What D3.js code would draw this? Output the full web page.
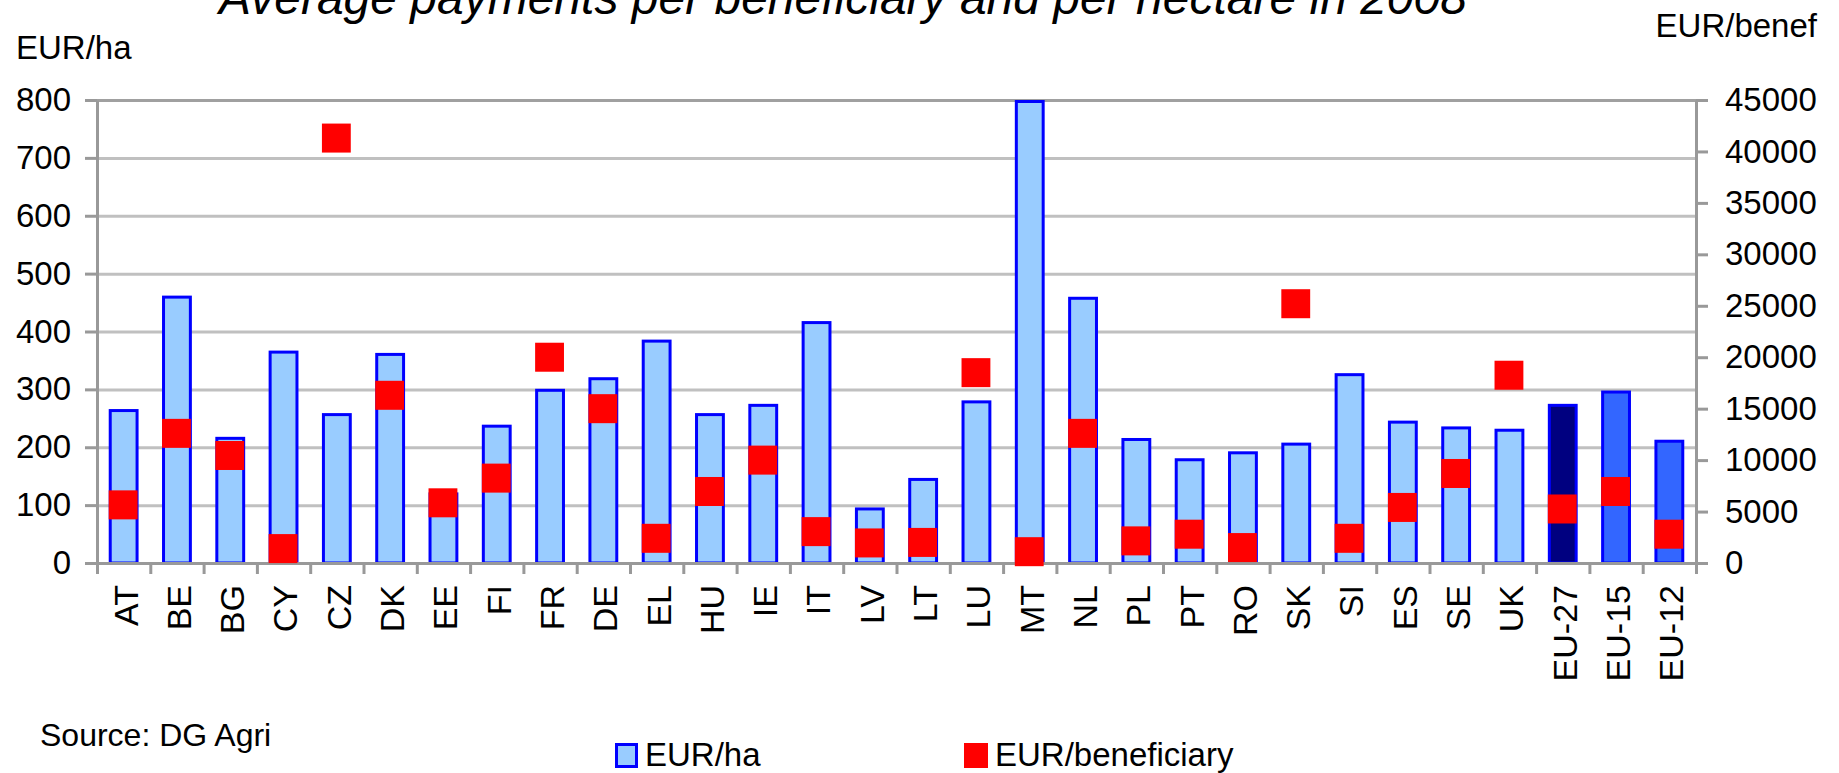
<!DOCTYPE html>
<html>
<head>
<meta charset="utf-8">
<script src="https://cdnjs.cloudflare.com/ajax/libs/d3/7.8.5/d3.min.js"></script>
<style>
	body { margin: 0; background: #fff; }
	svg text { font-family: "Liberation Sans", Arial, sans-serif; fill: #000; }
</style>
</head>
<body>
<div id="chart"></div>
<script>

// DATA
var countries = ["AT","BE","BG","CY","CZ","DK","EE","FI","FR","DE","EL","HU","IE","IT","LV","LT","LU","MT","NL","PL","PT","RO","SK","SI","ES","SE","UK","EU-27","EU-15","EU-12"];
var eurHa    = [266, 462, 218, 367, 259, 363, 122, 239, 301, 321, 386, 259, 275, 418, 96, 147, 281, 800, 460, 216, 181, 193, 208, 328, 246, 236, 232, 275, 298, 213];
var eurBenef = [5650, 12600, 10450, 1400, 41300, 16300, 5850, 8250, 20000, 15000, 2400, 6950, 10000, 3050, 1950, 2000, 18500, 1100, 12600, 2150, 2800, 1500, 25200, 2400, 5400, 8700, 18250, 5250, 6950, 2800];
var leftTicks  = [0, 100, 200, 300, 400, 500, 600, 700, 800];
var rightTicks = [0, 5000, 10000, 15000, 20000, 25000, 30000, 35000, 40000, 45000];
var legendLabels = ["EUR/ha", "EUR/beneficiary"];

var W = 1839, H = 773;
// plot area (note: "top" is a reserved window property, so px* names)
var pxLeft = 97, pxRight = 1696, pxTop = 100, pxBottom = 563;

var svg = d3.select("#chart").append("svg")
	.attr("width", W)
	.attr("height", H);

var x = d3.scaleBand()
	.domain(countries)
	.range([pxLeft, pxRight])
	.paddingInner(0.44)
	.paddingOuter(0.22);

var yL = d3.scaleLinear().domain([0, 800]).range([pxBottom, pxTop]);
var yR = d3.scaleLinear().domain([0, 45000]).range([pxBottom, pxTop]);

// gridlines
var grid = svg.append("g")
	.attr("transform", "translate(" + pxLeft + ",0)")
	.call(d3.axisLeft(yL).tickValues(leftTicks).tickSize(-(pxRight - pxLeft)).tickFormat(""));
grid.select(".domain").remove();
grid.selectAll("line").attr("stroke", "#c0c0c0").attr("stroke-width", 3);
grid.selectAll(".tick").filter(function(d){ return d == 800; }).select("line").attr("stroke", "#a0a0a0");

// bars
function barFill(c) {
	if (c == "EU-27") return "#000080";
	if (c == "EU-15" || c == "EU-12") return "#3366ff";
	return "#99ccff";
}

svg.append("g").selectAll("rect")
	.data(countries)
	.enter()
	.append("rect")
		.attr("x", function(d){ return x(d) + 1.5; })
		.attr("y", function(d, i){ return yL(eurHa[i]) + 1.5; })
		.attr("width", x.bandwidth() - 3)
		.attr("height", function(d, i){ return yL(0) - yL(eurHa[i]) - 1.5; })
		.attr("fill", barFill)
		.attr("stroke", "#0000ff")
		.attr("stroke-width", 3);

// axes
function styleAxis(g) {
	g.selectAll(".domain, line").attr("stroke", "#999").attr("stroke-width", 3);
	g.selectAll("text").attr("font-size", 33).attr("fill", "#000");
}

svg.append("g")
	.attr("transform", "translate(" + pxLeft + ",0)")
	.call(d3.axisLeft(yL).tickValues(leftTicks).tickSize(12).tickSizeOuter(0).tickPadding(14))
	.call(styleAxis);

svg.append("g")
	.attr("transform", "translate(" + pxRight + ",0)")
	.call(d3.axisRight(yR).tickValues(rightTicks).tickSize(12).tickSizeOuter(0).tickPadding(17).tickFormat(d3.format("d")))
	.call(styleAxis);

// category axis: ticks between the bars
var xi = d3.scaleLinear().domain([0, countries.length]).range([pxLeft, pxRight]);
svg.append("g")
	.attr("transform", "translate(0," + pxBottom + ")")
	.call(d3.axisBottom(xi).tickValues(d3.range(countries.length + 1)).tickSize(11).tickSizeOuter(0).tickFormat(""))
	.call(styleAxis);

svg.append("g").selectAll("text")
	.data(countries)
	.enter()
	.append("text")
		.attr("transform", function(d){ return "translate(" + (x(d) + x.bandwidth() / 2 + 2) + ",585) rotate(-90)"; })
		.attr("text-anchor", "end")
		.attr("dy", "0.35em")
		.attr("font-size", 34)
		.text(function(d){ return d; });

// red markers (right axis)
svg.append("g").selectAll("rect")
	.data(countries)
	.enter()
	.append("rect")
		.attr("x", function(d){ return x(d); })
		.attr("y", function(d, i){ return yR(eurBenef[i]) - 14.5; })
		.attr("width", x.bandwidth() - 1)
		.attr("height", 29)
		.attr("fill", "#ff0000");

// titles
svg.append("text")
	.attr("x", 843).attr("y", 14)
	.attr("text-anchor", "middle")
	.attr("font-size", 48)
	.attr("font-style", "italic")
	.text("Average payments per beneficiary and per hectare in 2008");

svg.append("text")
	.attr("x", 16).attr("y", 59)
	.attr("font-size", 33)
	.text("EUR/ha");

svg.append("text")
	.attr("x", 1817).attr("y", 37)
	.attr("text-anchor", "end")
	.attr("font-size", 33)
	.text("EUR/benef");

svg.append("text")
	.attr("x", 40).attr("y", 746)
	.attr("font-size", 32)
	.text("Source: DG Agri");

// legend
var legend = svg.append("g");
legend.append("rect")
	.attr("x", 616.5).attr("y", 744.5).attr("width", 20).attr("height", 22)
	.attr("fill", "#99ccff").attr("stroke", "#0000ff").attr("stroke-width", 3);
legend.append("text")
	.attr("x", 645).attr("y", 766)
	.attr("font-size", 33)
	.text(legendLabels[0]);
legend.append("rect")
	.attr("x", 964).attr("y", 743).attr("width", 24).attr("height", 25)
	.attr("fill", "#ff0000");
legend.append("text")
	.attr("x", 995).attr("y", 766)
	.attr("font-size", 33)
	.text(legendLabels[1]);

</script>
</body>
</html>
